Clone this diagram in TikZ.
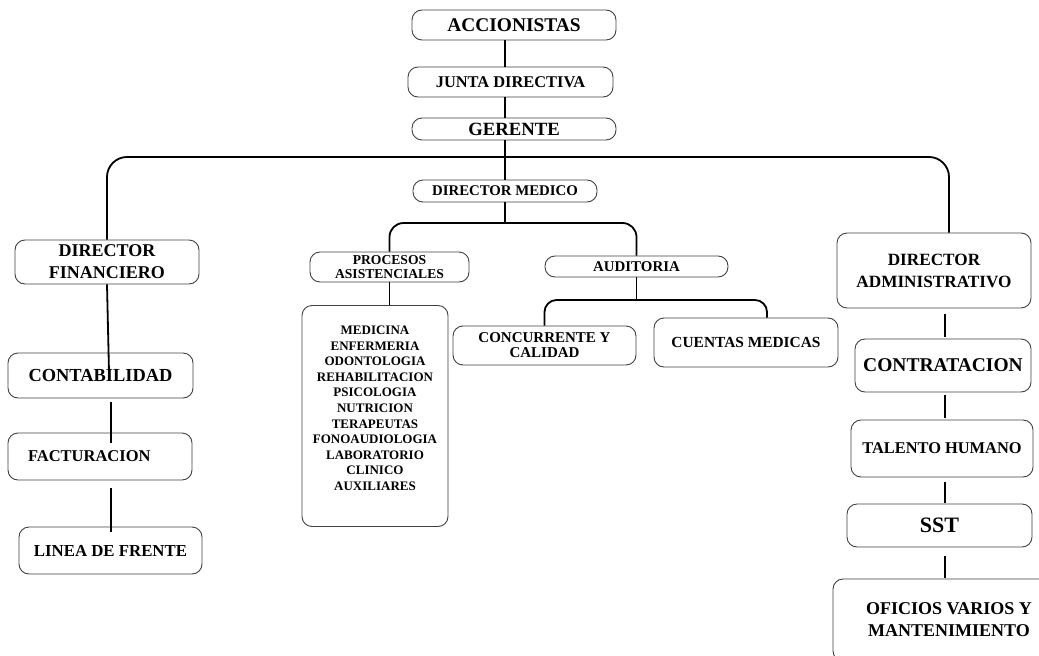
\documentclass[tikz,border=0pt]{standalone}
\usepackage{fontspec}
\setmainfont{Liberation Serif}
\usepackage{tikz}
\usetikzlibrary{positioning,calc}
\newcommand{\orgfont}[2]{\fontsize{#1}{#2}\selectfont\bfseries}

\begin{document}
\begin{tikzpicture}[x=1pt, y=-1pt,
    caja/.style={draw=black!75, line width=0.9pt, rounded corners=10pt,
                 align=center, inner sep=0pt},
    enlace/.style={draw=black, line width=1.8pt}]
         \useasboundingbox (0,0) rectangle (1039,656);
         \node[caja, minimum width=204pt, minimum height=30pt, font=\orgfont{19.4}{22}] (ACC) at (514,25) {ACCIONISTAS};
         \node[caja, minimum width=205pt, minimum height=30pt, font=\orgfont{16.4}{19}] (JD) at (510.5,82) {JUNTA DIRECTIVA};
         \node[caja, minimum width=204pt, minimum height=22pt, font=\orgfont{18.7}{21}] (GER) at (514,129) {GERENTE};
         \node[caja, minimum width=184pt, minimum height=22pt, font=\orgfont{14.8}{17}] (DM) at (505,191) {DIRECTOR MEDICO};
         \node[caja, minimum width=184pt, minimum height=44pt, font=\orgfont{18}{22}] (DF) at (107,262) {DIRECTOR\\FINANCIERO};
         \node[caja, minimum width=185pt, minimum height=45pt, font=\orgfont{18.4}{21}] (CON) at (100.5,375.5) {CONTABILIDAD};
         \node[caja, text width=144pt, inner xsep=20pt, align=left, minimum height=47pt, font=\orgfont{16.5}{19}] (FAC) at (100,456.5) {FACTURACION};
         \node[caja, minimum width=183pt, minimum height=47pt, font=\orgfont{16.8}{19}] (LF) at (110.5,550.5) {LINEA DE FRENTE};
         \node[caja, minimum width=159pt, minimum height=30pt, font=\orgfont{13.6}{13.5}] (PA) at (389.5,267) {PROCESOS\\ASISTENCIALES};
         \node[caja, minimum width=183pt, minimum height=21pt, font=\orgfont{14.9}{17}] (AU) at (636.5,266.5) {AUDITORIA};
         \node[caja, minimum width=146pt, minimum height=221pt, font=\orgfont{13}{15.6}] (LIS) at (375,416)
              {MEDICINA\\ENFERMERIA\\ODONTOLOGIA\\REHABILITACION\\PSICOLOGIA\\NUTRICION\\TERAPEUTAS\\FONOAUDIOLOGIA\\LABORATORIO\\CLINICO\\AUXILIARES\\ \mbox{}};
         \node[caja, minimum width=183pt, minimum height=39pt, font=\orgfont{15}{15}] (CC) at (544.5,345.5) {CONCURRENTE Y\\CALIDAD};
         \node[caja, minimum width=184pt, minimum height=49pt, font=\orgfont{15.4}{18}] (CM) at (746,342.5) {CUENTAS MEDICAS};
         \node[caja, minimum width=194pt, minimum height=75pt, font=\orgfont{17.2}{22}] (DA) at (934,270.5) {DIRECTOR\\ADMINISTRATIVO};
         \node[caja, minimum width=176pt, minimum height=53pt, font=\orgfont{19.5}{22}] (CTR) at (943,365.5) {CONTRATACION};
         \node[caja, minimum width=182pt, minimum height=57pt, font=\orgfont{16.4}{19}] (TH) at (942,448.5) {TALENTO HUMANO};
         \node[caja, minimum width=185pt, minimum height=43pt, font=\orgfont{22}{25}] (SST) at (939.5,525.5) {SST};
         \node[caja, minimum width=232pt, minimum height=82pt, font=\orgfont{18}{22}] (OV) at (949,620) {OFICIOS VARIOS Y\\MANTENIMIENTO};
         \coordinate (BG) at (505,157);
         \coordinate (BM) at (505,223);
         \coordinate (BA) at (636.5,300);
         \coordinate (CF) at (111,0);
         \coordinate (CR) at (945,0);
         \draw[enlace] (ACC.south -| DM.north) -- (JD.north -| DM.north);
         \draw[enlace] (JD.south -| DM.north) -- (GER.north -| DM.north);
         \draw[enlace] (GER.south -| DM.north) -- (DM.north);
         \draw[enlace, rounded corners=20pt] (DF.north) |- (BG) -| ([xshift=15pt]DA.north);
         \draw[enlace] (DM.south) -- (BM);
         \draw[enlace, rounded corners=14pt] (PA.north) |- (BM) -| (AU.north);
         \draw[enlace] (PA.south) -- (PA.south |- LIS.north);
         \draw[enlace] (AU.south) -- (BA);
         \draw[enlace, rounded corners=12pt] (CC.north) |- (BA) -| ([xshift=21pt]CM.north);
         \draw[enlace] (DF.south) -- ([xshift=8.5pt,yshift=3.5pt]CON.center);
         \draw[enlace, shorten <=4pt, shorten >=-10pt] (CON.south -| CF) -- (FAC.north -| CF);
         \draw[enlace, shorten <=8pt, shorten >=-5pt] (FAC.south -| CF) -- (LF.north -| CF);
         \draw[enlace, shorten <=6pt, shorten >=2pt] (DA.south -| CR) -- (CTR.north -| CR);
         \draw[enlace, shorten <=3pt, shorten >=2pt] (CTR.south -| CR) -- (TH.north -| CR);
         \draw[enlace, shorten <=5pt, shorten >=1pt] (TH.south -| CR) -- (SST.north -| CR);
         \draw[enlace, shorten <=9pt, shorten >=1pt] (SST.south -| CR) -- (OV.north -| CR);
 \end{tikzpicture}
\end{document}
